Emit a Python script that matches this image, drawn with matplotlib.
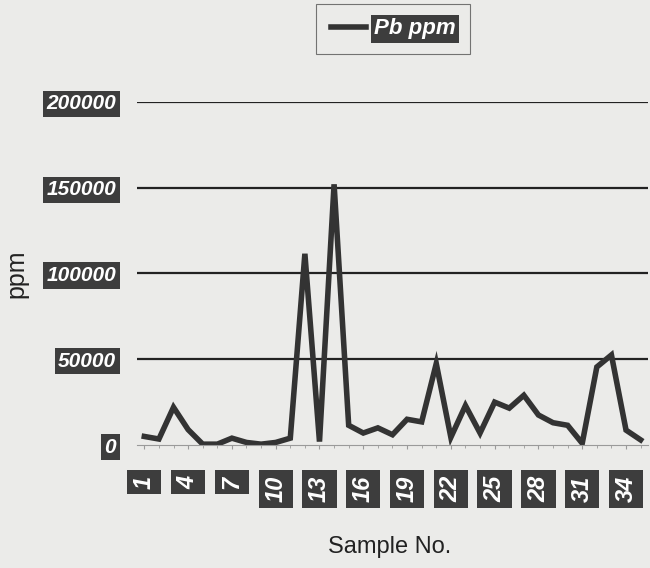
import numpy as np
import matplotlib.pyplot as plt

# sample numbers 1..35 and Pb values
samples = list(range(1, 36))
pb_ppm = [5000, 3500, 22000, 9000, 500, 500, 4000, 1500, 500, 1500,
          4000, 111500, 2000, 152000, 11500, 7000, 10000, 6000, 15000, 13500,
          47500, 4500, 23000, 7000, 25000, 21500, 29000, 17500, 13000, 11500,
          1000, 45500, 52500, 8700, 3000]
y_ticks = [0, 50000, 100000, 150000, 200000]
x_ticks = list(range(1, 36, 3))

bg = '#ebebe9'
dark = '#333333'

fig = plt.figure(figsize=(6.5, 5.68), dpi=100, facecolor=bg)
ax = fig.add_axes([0.2108, 0.2165, 0.786, 0.604], facecolor=bg)

ax.plot(samples, pb_ppm, color=dark, linewidth=4, solid_joinstyle='miter',
        label='Pb ppm')

ax.set_xlim(0.5, 35.5)
ax.set_ylim(0, 200000)
ax.set_yticks(y_ticks)
ax.set_xticks(x_ticks)
for v in y_ticks[1:]:
    ax.axhline(v, color='#222222', linewidth=1.6, zorder=0)

for s in ['top', 'right', 'left']:
    ax.spines[s].set_visible(False)
ax.spines['bottom'].set_color('#9a9a9a')
ax.spines['bottom'].set_linewidth(0.8)
ax.tick_params(axis='y', length=0, pad=15)
ax.tick_params(axis='x', length=3, color='#9a9a9a', pad=19)
ax.set_xticks(samples, minor=True)
ax.tick_params(axis='x', which='minor', length=2, color='#9a9a9a')

ybox = dict(facecolor='#3d3d3d', edgecolor='none', pad=2.5)
xbox = dict(facecolor='#3d3d3d', edgecolor='none', pad=4)
ax.set_yticklabels([str(v) for v in y_ticks], fontfamily='Liberation Sans',
                   fontsize=15, fontweight='bold', fontstyle='italic',
                   color='white')
for t in ax.get_yticklabels():
    t.set_bbox(ybox)
ax.set_xticklabels([str(v) for v in x_ticks], fontfamily='Liberation Sans',
                   fontsize=17, fontweight='bold', fontstyle='italic',
                   color='white', rotation=90)
for t in ax.get_xticklabels():
    t.set_bbox(xbox)

ax.set_ylabel('ppm', fontfamily='Liberation Sans', fontsize=18,
              color='#222222')
ax.yaxis.set_label_coords(-0.212, 0.5)
ax.set_xlabel('Sample No.', fontfamily='Liberation Sans', fontsize=17,
              color='#222222')
ax.xaxis.set_label_coords(0.495, -0.265)

leg = fig.legend(loc='upper center', bbox_to_anchor=(0.605, 0.993),
                 borderaxespad=0, frameon=True, fancybox=False,
                 edgecolor='#555555', facecolor=bg, handlelength=1.6,
                 handletextpad=0.35, borderpad=0.65,
                 prop={'family': 'Liberation Sans', 'size': 16,
                       'weight': 'bold', 'style': 'italic'})
leg.get_frame().set_linewidth(0.8)
for t in leg.get_texts():
    t.set_color('white')
    t.set_bbox(ybox)

fig.savefig('out.png', dpi=100, facecolor=bg)
